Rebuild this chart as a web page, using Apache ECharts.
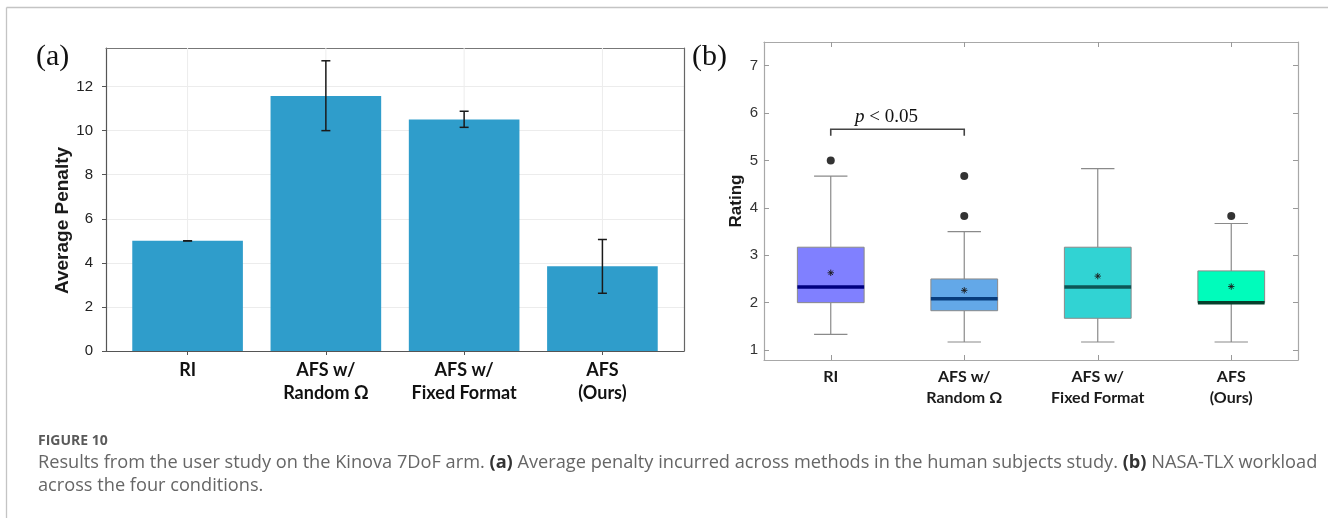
<!DOCTYPE html>
<html>
<head>
<meta charset="utf-8">
<script src="https://cdn.jsdelivr.net/npm/echarts@6/dist/echarts.min.js"></script>
<style>
  html, body { margin: 0; padding: 0; background: #fff; }
  #chart { width: 1328px; height: 518px; }
</style>
</head>
<body>
<div id="chart"></div>
<script>
// ---------- DATA ----------
const categories = ['RI', 'AFS w/\nRandom Ω', 'AFS w/\nFixed Format', 'AFS\n(Ours)'];

// Panel (a): average penalty with error bars
const penaltyMean = [5.0, 11.57, 10.5, 3.85];
const penaltyLow  = [5.0, 10.0, 10.15, 2.62];
const penaltyHigh = [5.0, 13.17, 10.88, 5.06];
const penaltyTicks = [0, 2, 4, 6, 8, 10, 12];

// Panel (b): NASA-TLX rating box plots
const boxLow    = [1.33, 1.17, 1.17, 1.17];
const boxQ1     = [2.0, 1.83, 1.67, 2.0];
const boxMedian = [2.33, 2.08, 2.33, 2.0];
const boxQ3     = [3.17, 2.5, 3.17, 2.67];
const boxHigh   = [4.67, 3.5, 4.83, 3.67];
const boxMean   = [2.63, 2.26, 2.56, 2.34];
const outlierCat = [0, 1, 1, 3];
const outlierVal = [5.0, 4.67, 3.83, 3.83];
const ratingTicks = [1, 2, 3, 4, 5, 6, 7];

// significance bracket: from category 0 to 1
const sigFrom = 0, sigTo = 1, sigTop = 5.66, sigFoot = 5.52, sigText = 5.92;

// ---------- STYLE ----------
const barColor = '#2f9dcb';
const boxFill = ['#8080ff', '#63a8e8', '#31d3d3', '#00fcbb'];
const medColor = ['#000080', '#083c7c', '#0c5656', '#06402c'];

const chart = echarts.init(document.getElementById('chart'), null, { renderer: 'canvas' });

const xPos = categories.map((c, i) => i + 1);

const option = {
  backgroundColor: '#ffffff',
  animation: false,
  textStyle: { fontFamily: 'Liberation Sans' },
  grid: [
    { left: 106, top: 48, width: 578, height: 303 },
    { left: 764, top: 42, width: 534, height: 318 }
  ],
  xAxis: [
    {
      gridIndex: 0, type: 'value', min: 0.41, max: 4.59, position: 'bottom',
      axisLine: { show: true, lineStyle: { color: '#555', width: 1.2 } },
      axisTick: { show: true, customValues: xPos, length: 4, lineStyle: { color: '#555' } },
      axisLabel: {
        customValues: xPos, margin: 8,
        formatter: v => categories[Math.round(v) - 1] || '',
        fontFamily: 'Lato', fontWeight: 'bold', fontSize: 18, lineHeight: 23,
        color: '#111', verticalAlign: 'top'
      },
      splitLine: { show: false }
    },
    {
      gridIndex: 0, type: 'value', min: 0.41, max: 4.59, position: 'top',
      axisLine: { show: true, onZero: false, lineStyle: { color: '#777', width: 1.2 } },
      axisTick: { show: false }, axisLabel: { show: false }, splitLine: { show: false }
    },
    {
      gridIndex: 1, type: 'category', data: categories, position: 'bottom',
      axisLine: { show: true, lineStyle: { color: '#a8a8a8', width: 1.2 } },
      axisTick: { show: true, alignWithLabel: true, inside: true, length: 5, lineStyle: { color: '#999' } },
      axisLabel: {
        margin: 6, fontFamily: 'Lato', fontWeight: 'bold', fontSize: 16, lineHeight: 21,
        color: '#1a1a1a', verticalAlign: 'top'
      },
      splitLine: { show: false }
    },
    {
      gridIndex: 1, type: 'category', data: categories, position: 'top',
      axisLine: { show: true, onZero: false, lineStyle: { color: '#a8a8a8', width: 1.2 } },
      axisTick: { show: true, alignWithLabel: true, inside: true, length: 5, lineStyle: { color: '#999' } },
      axisLabel: { show: false }, splitLine: { show: false }
    }
  ],
  yAxis: [
    {
      gridIndex: 0, type: 'value', min: 0, max: 13.75, interval: 2, position: 'left',
      name: 'Average Penalty', nameLocation: 'middle', nameGap: 33, nameRotate: 90,
      nameTextStyle: { fontFamily: 'Liberation Sans', fontWeight: 'bold', fontSize: 19, color: '#1a1a1a', padding: [0, 42, 0, 0] },
      axisLine: { show: true, lineStyle: { color: '#555', width: 1.2 } },
      axisTick: { show: true, customValues: penaltyTicks, length: 4, lineStyle: { color: '#555' } },
      axisLabel: { customValues: penaltyTicks, margin: 13, fontSize: 15, color: '#222', fontFamily: 'Liberation Sans' },
      splitLine: { show: true, lineStyle: { color: '#ececec', width: 1 } }
    },
    {
      gridIndex: 0, type: 'value', min: 0, max: 13.75, interval: 2, position: 'right',
      axisLine: { show: true, onZero: false, lineStyle: { color: '#666', width: 1.2 } },
      axisTick: { show: false }, axisLabel: { show: false }, splitLine: { show: false }
    },
    {
      gridIndex: 1, type: 'value', min: 0.79, max: 7.5, position: 'left',
      name: 'Rating', nameLocation: 'middle', nameGap: 19, nameRotate: 90,
      nameTextStyle: { fontFamily: 'Liberation Sans', fontWeight: 'bold', fontSize: 17, color: '#1a1a1a' },
      axisLine: { show: true, onZero: false, lineStyle: { color: '#a8a8a8', width: 1.2 } },
      axisTick: { show: true, customValues: ratingTicks, inside: true, length: 5, lineStyle: { color: '#999' } },
      axisLabel: { customValues: ratingTicks, margin: 6, fontSize: 15, color: '#333', fontFamily: 'Liberation Sans' },
      splitLine: { show: false }
    },
    {
      gridIndex: 1, type: 'value', min: 0.79, max: 7.5, position: 'right',
      axisLine: { show: true, onZero: false, lineStyle: { color: '#a8a8a8', width: 1.2 } },
      axisTick: { show: true, customValues: ratingTicks, inside: true, length: 5, lineStyle: { color: '#999' } },
      axisLabel: { show: false }, splitLine: { show: false }
    }
  ],
  series: [
    // vertical grid lines (panel a)
    {
      type: 'custom', xAxisIndex: 0, yAxisIndex: 0, z: 1, silent: true,
      data: xPos.map(x => [x]),
      renderItem: (params, api) => {
        const x = api.value(0);
        const a = api.coord([x, 0]);
        const b = api.coord([x, 13.75]);
        return { type: 'line', shape: { x1: a[0], y1: a[1], x2: b[0], y2: b[1] },
                 style: { stroke: '#ececec', lineWidth: 1 } };
      }
    },
    // bars (panel a)
    {
      type: 'custom', xAxisIndex: 0, yAxisIndex: 0, z: 2,
      data: penaltyMean.map((v, i) => [xPos[i], v]),
      renderItem: (params, api) => {
        const x = api.value(0), y = api.value(1);
        const top = api.coord([x, y]);
        const base = api.coord([x, 0]);
        const w = api.size([0.8, 0])[0];
        return { type: 'rect', shape: { x: top[0] - w / 2, y: top[1], width: w, height: base[1] - top[1] },
                 style: { fill: barColor } };
      }
    },
    // error bars (panel a)
    {
      type: 'custom', xAxisIndex: 0, yAxisIndex: 0, z: 3,
      data: penaltyLow.map((v, i) => [xPos[i], v, penaltyHigh[i]]),
      renderItem: (params, api) => {
        const x = api.value(0);
        const lo = api.coord([x, api.value(1)]);
        const hi = api.coord([x, api.value(2)]);
        const c = 4.5;
        const st = { stroke: '#1a1a1a', lineWidth: 1.5 };
        return { type: 'group', children: [
          { type: 'line', shape: { x1: lo[0], y1: lo[1], x2: hi[0], y2: hi[1] }, style: st },
          { type: 'line', shape: { x1: lo[0] - c, y1: lo[1], x2: lo[0] + c, y2: lo[1] }, style: st },
          { type: 'line', shape: { x1: hi[0] - c, y1: hi[1], x2: hi[0] + c, y2: hi[1] }, style: st }
        ] };
      }
    },
    // box plots (panel b)
    {
      type: 'custom', xAxisIndex: 2, yAxisIndex: 2, z: 2,
      data: boxLow.map((v, i) => [i, v, boxQ1[i], boxMedian[i], boxQ3[i], boxHigh[i]]),
      renderItem: (params, api) => {
        const i = api.value(0);
        const pLow = api.coord([i, api.value(1)]);
        const pQ1 = api.coord([i, api.value(2)]);
        const pMed = api.coord([i, api.value(3)]);
        const pQ3 = api.coord([i, api.value(4)]);
        const pHigh = api.coord([i, api.value(5)]);
        const band = api.size([1, 0])[0];
        const bw = band * 0.5, cw = band * 0.25;
        const x = pQ1[0];
        const wst = { stroke: '#8a8a8a', lineWidth: 1.2 };
        return { type: 'group', children: [
          { type: 'line', shape: { x1: x, y1: pQ3[1], x2: x, y2: pHigh[1] }, style: wst },
          { type: 'line', shape: { x1: x, y1: pQ1[1], x2: x, y2: pLow[1] }, style: wst },
          { type: 'line', shape: { x1: x - cw / 2, y1: pHigh[1], x2: x + cw / 2, y2: pHigh[1] }, style: wst },
          { type: 'line', shape: { x1: x - cw / 2, y1: pLow[1], x2: x + cw / 2, y2: pLow[1] }, style: wst },
          { type: 'rect', shape: { x: x - bw / 2, y: pQ3[1], width: bw, height: pQ1[1] - pQ3[1] },
            style: { fill: boxFill[i], stroke: '#8a8a8a', lineWidth: 1 } },
          { type: 'line', shape: { x1: x - bw / 2, y1: pMed[1], x2: x + bw / 2, y2: pMed[1] },
            style: { stroke: medColor[i], lineWidth: 3.5 } }
        ] };
      }
    },
    // means (asterisks)
    {
      type: 'custom', xAxisIndex: 2, yAxisIndex: 2, z: 4,
      data: boxMean.map((v, i) => [i, v]),
      renderItem: (params, api) => {
        const p = api.coord([api.value(0), api.value(1)]);
        const r = 3.2, d = r * 0.707;
        const st = { stroke: '#1a1a1a', lineWidth: 0.9 };
        return { type: 'group', children: [
          { type: 'line', shape: { x1: p[0] - r, y1: p[1], x2: p[0] + r, y2: p[1] }, style: st },
          { type: 'line', shape: { x1: p[0], y1: p[1] - r, x2: p[0], y2: p[1] + r }, style: st },
          { type: 'line', shape: { x1: p[0] - d, y1: p[1] - d, x2: p[0] + d, y2: p[1] + d }, style: st },
          { type: 'line', shape: { x1: p[0] - d, y1: p[1] + d, x2: p[0] + d, y2: p[1] - d }, style: st }
        ] };
      }
    },
    // outliers
    {
      type: 'scatter', xAxisIndex: 2, yAxisIndex: 2, z: 4,
      symbol: 'circle', symbolSize: 8,
      itemStyle: { color: '#000' },
      data: outlierCat.map((c, i) => [c, outlierVal[i]])
    },
    // significance bracket
    {
      type: 'custom', xAxisIndex: 2, yAxisIndex: 2, z: 4,
      data: [[sigFrom, sigTo, sigTop, sigFoot, sigText]],
      renderItem: (params, api) => {
        const a = api.coord([api.value(0), api.value(2)]);
        const b = api.coord([api.value(1), api.value(2)]);
        const f = api.coord([api.value(0), api.value(3)]);
        const t = api.coord([api.value(0), api.value(4)]);
        const st = { stroke: '#444', lineWidth: 1.6, fill: null };
        return { type: 'group', children: [
          { type: 'polyline', shape: { points: [[a[0], f[1]], [a[0], a[1]], [b[0], b[1]], [b[0], f[1]]] }, style: st },
          { type: 'text', x: (a[0] + b[0]) / 2 - 11, y: t[1],
            style: { text: '{i|p} < 0.05', fontFamily: 'Liberation Serif', fontSize: 19, fill: '#111',
                     align: 'center', verticalAlign: 'middle',
                     rich: { i: { fontStyle: 'italic', fontFamily: 'Liberation Serif', fontSize: 19, fill: '#111' } } } }
        ] };
      }
    }
  ],
  graphic: [
    { type: 'line', shape: { x1: 6.5, y1: 7.5, x2: 1328, y2: 7.5 }, style: { stroke: '#c4c4c4', lineWidth: 1.3 }, silent: true },
    { type: 'line', shape: { x1: 6.5, y1: 7.5, x2: 6.5, y2: 518 }, style: { stroke: '#c4c4c4', lineWidth: 1.3 }, silent: true },
    { type: 'text', left: 36, top: 42, style: { text: '(a)', fontFamily: 'Liberation Serif', fontSize: 30, fill: '#111' } },
    { type: 'text', left: 692, top: 42, style: { text: '(b)', fontFamily: 'Liberation Serif', fontSize: 30, fill: '#111' } },
    { type: 'text', left: 38, top: 434, style: { text: 'FIGURE 10', fontFamily: 'Open Sans', fontWeight: 'bold', fontSize: 14, fill: '#5a5a5a' } },
    { type: 'text', left: 38, top: 451, style: {
        text: '{n|Results from the user study on the Kinova 7DoF arm. }{b|(a)}{n| Average penalty incurred across methods in the human subjects study. }{b|(b)}{n| NASA-TLX workload}\n{n|across the four conditions.}',
        fontFamily: 'Open Sans', fontSize: 18.2, fill: '#666', lineHeight: 23,
        rich: {
          n: { fontFamily: 'Open Sans', fontSize: 18.2, fill: '#666', lineHeight: 23 },
          b: { fontFamily: 'Open Sans', fontSize: 18.2, fontWeight: 'bold', fill: '#333', lineHeight: 23 }
        } } }
  ]
};

chart.setOption(option);
</script>
</body>
</html>
